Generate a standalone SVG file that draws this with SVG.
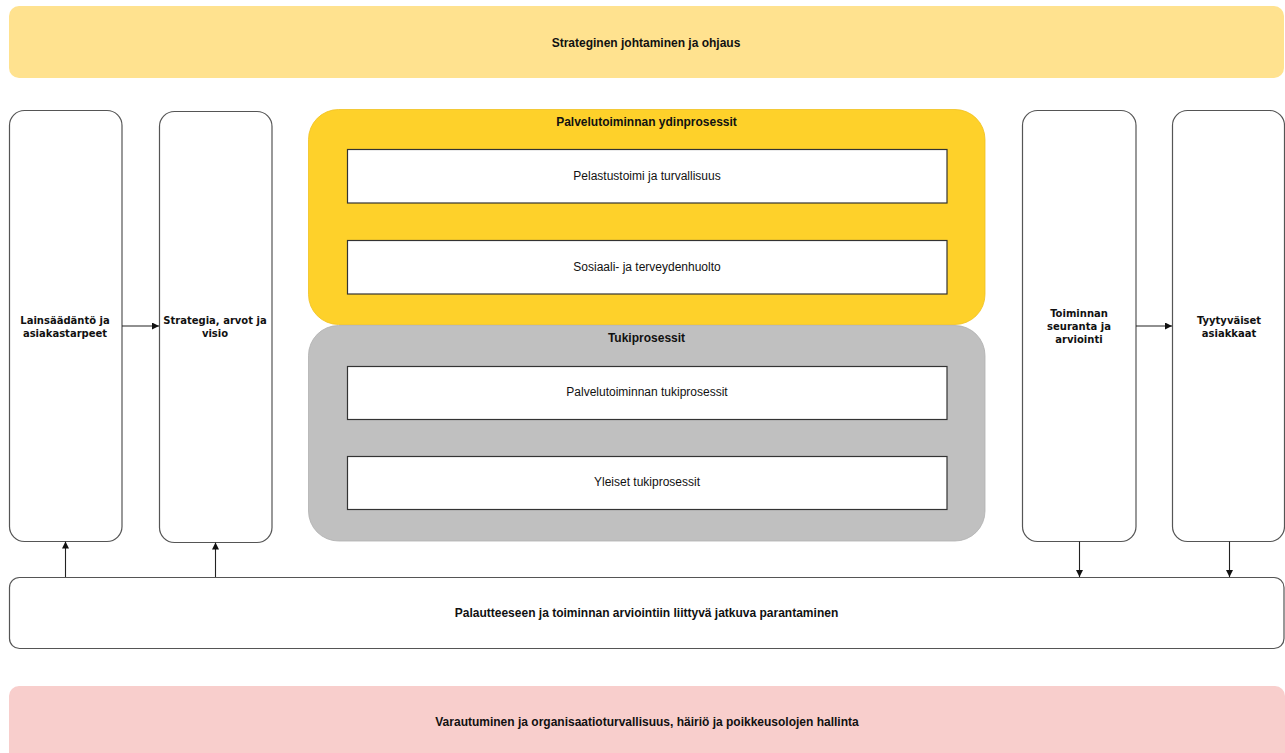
<svg xmlns="http://www.w3.org/2000/svg" width="1285" height="753" viewBox="0 0 1285 753">
  <style>
    .band { stroke: none; }
    .col { fill: #ffffff; stroke: #555555; stroke-width: 1.2; }
    .inner { fill: #ffffff; stroke: #333333; stroke-width: 1.2; }
    .wire { fill: none; stroke: #222222; stroke-width: 1.1; }
    .t { font-family: "Liberation Sans", Arial, sans-serif; font-size: 12px; fill: #111111; text-anchor: middle; dominant-baseline: central; }
    .b { font-weight: bold; }
    .v { font-family: "DejaVu Sans", Verdana, sans-serif; font-size: 10px; font-weight: bold; fill: #111111; text-anchor: middle; dominant-baseline: central; }
  </style>
  <defs>
    <marker id="arrow" viewBox="0 0 10 10" refX="10" refY="5" markerWidth="7" markerHeight="7" markerUnits="userSpaceOnUse" orient="auto">
      <path d="M0,0 L10,5 L0,10 z" fill="#111111"/>
    </marker>
  </defs>

  <rect width="1285" height="753" fill="#ffffff"/>

  <!-- top management band -->
  <g id="strategic">
    <rect class="band" x="9" y="6" width="1275" height="72" rx="10" fill="#ffe28f"/>
    <text class="t b" x="646" y="43">Strateginen johtaminen ja ohjaus</text>
  </g>

  <!-- side columns -->
  <g id="legislation">
    <rect class="col" x="9.5" y="110.5" width="112.5" height="431" rx="15"/>
    <text class="v" x="65" y="320">Lainsäädäntö ja</text>
    <text class="v" x="65" y="333">asiakastarpeet</text>
  </g>
  <g id="strategy">
    <rect class="col" x="159.5" y="111.5" width="112.5" height="431" rx="15"/>
    <text class="v" x="215" y="320">Strategia, arvot ja</text>
    <text class="v" x="215" y="333">visio</text>
  </g>
  <g id="monitoring">
    <rect class="col" x="1022.5" y="110.5" width="113.5" height="431" rx="15"/>
    <text class="v" x="1079" y="313">Toiminnan</text>
    <text class="v" x="1079" y="326">seuranta ja</text>
    <text class="v" x="1079" y="339">arviointi</text>
  </g>
  <g id="customers">
    <rect class="col" x="1172.5" y="110.5" width="112" height="431" rx="15"/>
    <text class="v" x="1229" y="320">Tyytyväiset</text>
    <text class="v" x="1229" y="333">asiakkaat</text>
  </g>

  <!-- core service processes -->
  <g id="core">
    <rect x="308.5" y="109.5" width="676.5" height="215" rx="30" fill="#fed12a" stroke="#f0c020" stroke-width="0.8"/>
    <text class="t b" x="646.5" y="122">Palvelutoiminnan ydinprosessit</text>
  </g>
  <g id="rescue">
    <rect class="inner" x="347.5" y="149.5" width="599.5" height="53.5"/>
    <text class="t" x="647" y="176">Pelastustoimi ja turvallisuus</text>
  </g>
  <g id="health">
    <rect class="inner" x="347.5" y="240.5" width="599.5" height="53.5"/>
    <text class="t" x="647" y="267">Sosiaali- ja terveydenhuolto</text>
  </g>

  <!-- support processes -->
  <g id="support">
    <rect x="308.5" y="325.5" width="676.5" height="215.5" rx="30" fill="#c0c0c0" stroke="#b0b0b0" stroke-width="0.8"/>
    <text class="t b" x="646.5" y="338">Tukiprosessit</text>
  </g>
  <g id="service-support">
    <rect class="inner" x="347.5" y="366.5" width="599.5" height="53"/>
    <text class="t" x="647" y="392">Palvelutoiminnan tukiprosessit</text>
  </g>
  <g id="general-support">
    <rect class="inner" x="347.5" y="456.5" width="599.5" height="53"/>
    <text class="t" x="647" y="482">Yleiset tukiprosessit</text>
  </g>

  <!-- continuous improvement -->
  <g id="improvement">
    <rect class="col" x="9.5" y="577.5" width="1274.5" height="71" rx="10"/>
    <text class="t b" x="646.5" y="613">Palautteeseen ja toiminnan arviointiin liittyvä jatkuva parantaminen</text>
  </g>

  <!-- preparedness band -->
  <g id="preparedness">
    <rect class="band" x="9" y="686" width="1276" height="80" rx="10" fill="#f8cecc"/>
    <text class="t b" x="647" y="722">Varautuminen ja organisaatioturvallisuus, häiriö ja poikkeusolojen hallinta</text>
  </g>

  <!-- connectors -->
  <g id="connectors">
    <line class="wire" x1="122" y1="326" x2="159" y2="326" marker-end="url(#arrow)"/>
    <line class="wire" x1="1136" y1="326" x2="1172" y2="326" marker-end="url(#arrow)"/>
    <line class="wire" x1="65.5" y1="577" x2="65.5" y2="541.5" marker-end="url(#arrow)"/>
    <line class="wire" x1="215.5" y1="577" x2="215.5" y2="542.5" marker-end="url(#arrow)"/>
    <line class="wire" x1="1079.5" y1="541.5" x2="1079.5" y2="577" marker-end="url(#arrow)"/>
    <line class="wire" x1="1229.5" y1="541.5" x2="1229.5" y2="577" marker-end="url(#arrow)"/>
  </g>
</svg>
